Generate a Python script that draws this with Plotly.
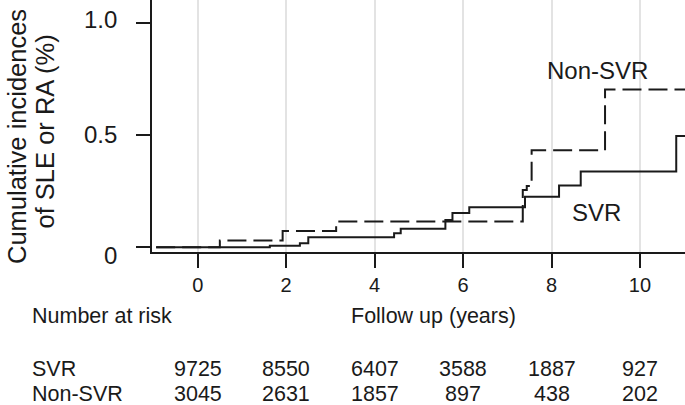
import plotly.graph_objects as go

# ---- data ----
svr_t = [-0.94, 1.63, 2.31, 2.50, 4.44, 4.59, 5.60, 5.76, 6.14, 7.40, 8.17, 8.66, 10.82, 11.02]
svr_v = [0.0, 0.007, 0.018, 0.045, 0.062, 0.083, 0.122, 0.153, 0.178, 0.225, 0.275, 0.337, 0.496, 0.496]

nonsvr_t = [-0.94, 0.50, 1.92, 3.13, 7.35, 7.44, 7.55, 9.21, 11.02]
nonsvr_v = [0.0, 0.030, 0.072, 0.115, 0.255, 0.273, 0.432, 0.702, 0.702]

x_ticks = [0, 2, 4, 6, 8, 10]
y_ticks = [0, 0.5, 1.0]
y_tick_text = ["0", "0.5", "1.0"]

y_title_lines = ["Cumulative incidences", "of SLE or RA (%)"]

risk_groups = ["SVR", "Non-SVR"]
risk_svr = [9725, 8550, 6407, 3588, 1887, 927]
risk_nonsvr = [3045, 2631, 1857, 897, 438, 202]

FONT = "Liberation Sans, Arial, sans-serif"
INK = "#1a1a1a"

W, H = 685, 405
ML, MR, MT, MB = 152, 0, 0, 153
PW = W - ML - MR
PH = H - MT - MB


def px_to_paper_x(px):
    return (px - ML) / PW


def px_to_paper_y(py):
    return (H - MB - py) / PH


fig = go.Figure()
fig.add_trace(go.Scatter(x=svr_t, y=svr_v, mode="lines", line_shape="hv",
                         line=dict(color=INK, width=2), name="SVR", showlegend=False))
fig.add_trace(go.Scatter(x=nonsvr_t, y=nonsvr_v, mode="lines", line_shape="hv",
                         line=dict(color=INK, width=2, dash="19px,7px"), name="Non-SVR",
                         showlegend=False))

annotations = []
# curve labels
annotations.append(dict(x=9.03, y=0.785, xref="x", yref="y", text="Non-SVR", showarrow=False,
                        font=dict(size=24, color=INK, family=FONT)))
annotations.append(dict(x=9.01, y=0.157, xref="x", yref="y", text="SVR", showarrow=False,
                        font=dict(size=24, color=INK, family=FONT)))
# y tick labels (drawn as text so each can sit like the original)
y_label_shift = [-8, 0, 3]
for yv, yt, sh in zip(y_ticks, y_tick_text, y_label_shift):
    annotations.append(dict(x=px_to_paper_x(118), y=yv, xref="paper", yref="y", text=yt,
                            showarrow=False, xanchor="right", yanchor="middle", yshift=sh,
                            borderpad=0, font=dict(size=24, color=INK, family=FONT)))
# y-axis title (two rotated lines, tight line spacing as in the original)
title_pos = [(16.5, 136.5), (44.5, 132)]
for line, (tx, ty) in zip(y_title_lines, title_pos):
    annotations.append(dict(x=px_to_paper_x(tx), y=px_to_paper_y(ty), xref="paper", yref="paper",
                            text=line, textangle=-90, showarrow=False,
                            xanchor="center", yanchor="middle", borderpad=0,
                            font=dict(size=25.5, color=INK, family=FONT)))
# header row
TS = 21.5
annotations.append(dict(x=px_to_paper_x(31), y=px_to_paper_y(316), xref="paper", yref="paper",
                        text="Number at risk", showarrow=False, xanchor="left", yanchor="middle",
                        borderpad=0, font=dict(size=TS, color=INK, family=FONT)))
annotations.append(dict(x=px_to_paper_x(433), y=px_to_paper_y(316), xref="paper", yref="paper",
                        text="Follow up (years)", showarrow=False, xanchor="center", yanchor="middle",
                        borderpad=0, font=dict(size=TS, color=INK, family=FONT)))
# risk table
row_y = [369, 394]
for grp, vals, ry in zip(risk_groups, [risk_svr, risk_nonsvr], row_y):
    annotations.append(dict(x=px_to_paper_x(31), y=px_to_paper_y(ry), xref="paper", yref="paper",
                            text=grp, showarrow=False, xanchor="left", yanchor="middle",
                            borderpad=0, font=dict(size=TS, color=INK, family=FONT)))
    for xt, v in zip(x_ticks, vals):
        annotations.append(dict(x=xt, y=px_to_paper_y(ry), xref="x", yref="paper",
                                text=str(v), showarrow=False, xanchor="center", yanchor="middle",
                                borderpad=0, font=dict(size=TS, color=INK, family=FONT)))

fig.update_layout(
    width=W, height=H,
    margin=dict(l=ML, r=MR, t=MT, b=MB),
    paper_bgcolor="white", plot_bgcolor="white",
    font=dict(family=FONT, color=INK),
    annotations=annotations,
    showlegend=False,
)
fig.update_xaxes(range=[-1.034, 11.018], tickvals=x_ticks, ticks="outside", ticklen=14,
                 tickwidth=2, tickcolor=INK, showline=True, linecolor=INK, linewidth=2,
                 showgrid=True, gridcolor="#e3e3e3", gridwidth=1.5, zeroline=False,
                 tickfont=dict(size=20, color=INK, family=FONT))
fig.update_yaxes(range=[-0.021, 1.101], tickvals=y_ticks, ticks="outside", showticklabels=False,
                 ticklen=14, tickwidth=2, tickcolor=INK, showline=True, linecolor=INK, linewidth=2,
                 showgrid=False, zeroline=False)

fig.write_html("out.html", config={"displayModeBar": False},
               post_script="document.body.style.margin='0';document.body.style.overflow='hidden';")
